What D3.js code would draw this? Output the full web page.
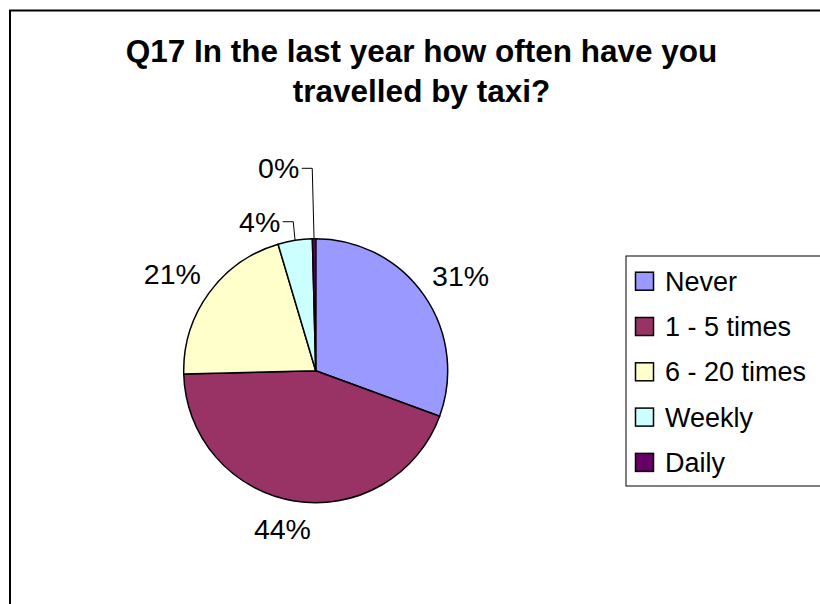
<!DOCTYPE html>
<html>
<head>
<meta charset="utf-8">
<script src="https://cdn.jsdelivr.net/npm/d3@7/dist/d3.min.js"></script>
<style>
  html, body { margin: 0; padding: 0; background: #fff; }
  svg { display: block; font-family: "Liberation Sans", Arial, sans-serif; }
</style>
</head>
<body>
<svg id="chart" width="820" height="604"></svg>
<script>
// ---- data ----
const categories = ["Never", "1 - 5 times", "6 - 20 times", "Weekly", "Daily"];
const values = [30.6, 44.0, 20.8, 4.2, 0.4];
const labels = ["31%", "44%", "21%", "4%", "0%"];
const colors = ["#9999FF", "#993366", "#FFFFCC", "#CCFFFF", "#660066"];
const titleLines = ["Q17 In the last year how often have you", "travelled by taxi?"];

// ---- layout ----
const W = 820, H = 604;
const cx = 315.7, cy = 370.7, r = 132;
const labelFont = 28.5;
const svg = d3.select("#chart");

// chart area border (extends past right/bottom)
svg.append("rect")
  .attr("x", 10).attr("y", 10.5)
  .attr("width", 840).attr("height", 640)
  .attr("fill", "#fff").attr("stroke", "#000").attr("stroke-width", 2);

// title
const title = svg.append("text")
  .attr("text-anchor", "middle")
  .attr("font-weight", "bold")
  .attr("font-size", 31.5)
  .attr("fill", "#000");
titleLines.forEach((t, i) => {
  title.append("tspan").attr("x", 421.5).attr("y", 62 + i * 40).text(t);
});

// pie
const pie = d3.pie().sort(null).value(d => d)(values);
const arc = d3.arc().innerRadius(0).outerRadius(r);
const g = svg.append("g").attr("transform", `translate(${cx},${cy})`);
g.selectAll("path.slice")
  .data(pie)
  .join("path")
  .attr("class", "slice")
  .attr("d", arc)
  .attr("fill", (d, i) => colors[i])
  .attr("stroke", "#000")
  .attr("stroke-width", 1.5)
  .attr("stroke-linejoin", "round");

// labels
const R = r + 10;
const clamp = v => Math.max(-1, Math.min(1, v));
const measure = svg.append("text").attr("font-size", labelFont).attr("visibility", "hidden");
function textWidth(t) { measure.text(t); return measure.node().getComputedTextLength(); }

// leader-lined labels (small slices lifted above the pie)
const leaderLift = { 3: 18.6, 4: 70.4 };
const leaderRun = 10.5;
const leaderGap = 2.5;

pie.forEach((d, i) => {
  const a = (d.startAngle + d.endAngle) / 2;
  const s = Math.sin(a), c = Math.cos(a);
  if (leaderLift[i] !== undefined) {
    const px = r * s, py = -r * c;
    const ey = py - leaderLift[i];
    const ex = px - 1.8;
    const hx = ex - leaderRun;
    g.append("polyline")
      .attr("points", `${px},${py} ${ex},${ey} ${hx},${ey}`)
      .attr("fill", "none").attr("stroke", "#000").attr("stroke-width", 1);
    g.append("text")
      .attr("x", hx - leaderGap)
      .attr("y", ey + 10)
      .attr("text-anchor", "end")
      .attr("font-size", labelFont)
      .attr("fill", "#000")
      .text(labels[i]);
    return;
  }
  const px = R * s, py = -R * c;
  const w = textWidth(labels[i]);
  const h = labelFont + 3;
  const left = px - (w / 2) * (1 - clamp(s * 2.2));
  const top = py - (h / 2) * (1 + clamp(c * 2.2));
  g.append("text")
    .attr("x", left)
    .attr("y", top + labelFont)
    .attr("font-size", labelFont)
    .attr("fill", "#000")
    .text(labels[i]);
});
measure.remove();

// legend
const lg = svg.append("g");
lg.append("rect")
  .attr("x", 626).attr("y", 256)
  .attr("width", 220).attr("height", 230)
  .attr("fill", "#fff").attr("stroke", "#000").attr("stroke-width", 1);
const rowStep = 45.3;
categories.forEach((cat, i) => {
  const base = 290.7 + i * rowStep;
  lg.append("rect")
    .attr("x", 635.5).attr("y", base - 18.5)
    .attr("width", 18).attr("height", 18)
    .attr("fill", colors[i]).attr("stroke", "#000").attr("stroke-width", 1.5);
  lg.append("text")
    .attr("x", 665).attr("y", base)
    .attr("font-size", 27)
    .attr("fill", "#000")
    .text(cat);
});
</script>
</body>
</html>
